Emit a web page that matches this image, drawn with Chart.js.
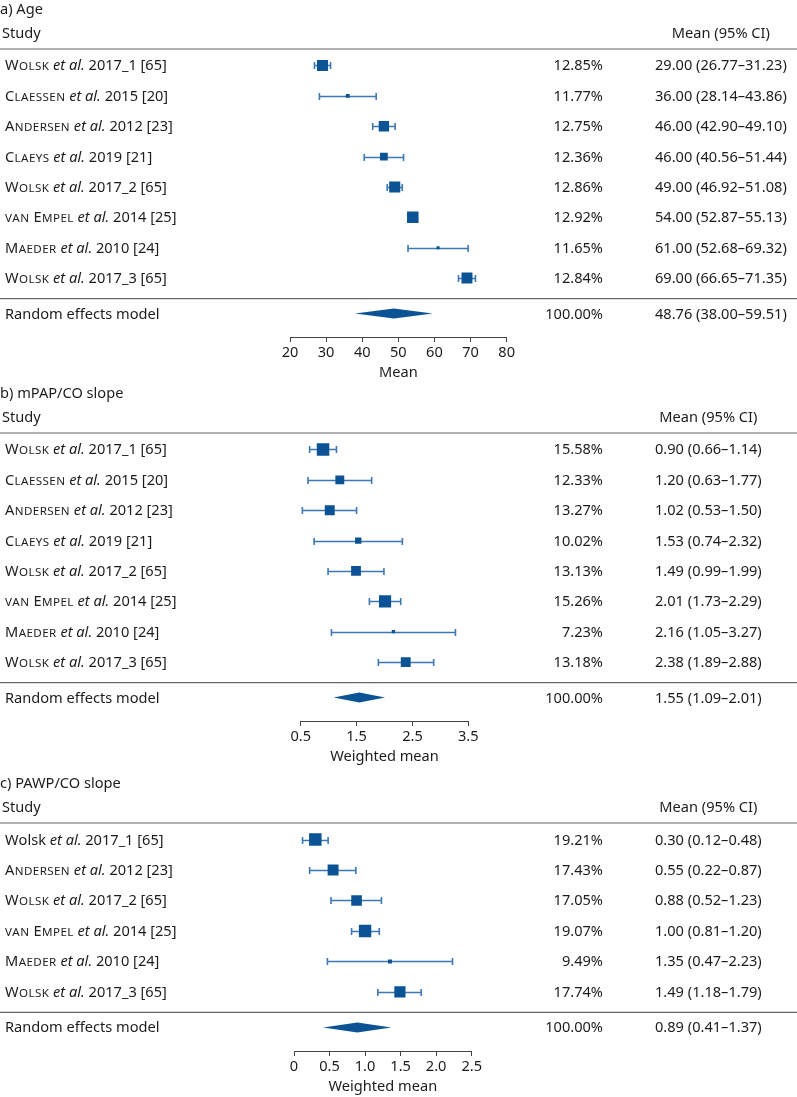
<!DOCTYPE html>
<html>
<head>
<meta charset="utf-8">
<script src="https://cdn.jsdelivr.net/npm/chart.js@4.4.0/dist/chart.umd.min.js"></script>
<style>
    body { margin: 0; background: #fff; width: 797px; height: 1097px; overflow: hidden; position: relative; }
    canvas { position: absolute; left: 0; }
</style>
</head>
<body>
<canvas id="ageChart"></canvas>
<canvas id="mpapChart"></canvas>
<canvas id="pawpChart"></canvas>
<script>
// a) Age
const ageStudies = ['Wolsk et al. 2017_1 [65]', 'Claessen et al. 2015 [20]', 'Andersen et al. 2012 [23]', 'Claeys et al. 2019 [21]',
    'Wolsk et al. 2017_2 [65]', 'van Empel et al. 2014 [25]', 'Maeder et al. 2010 [24]', 'Wolsk et al. 2017_3 [65]'];
const ageWeights = [12.85, 11.77, 12.75, 12.36, 12.86, 12.92, 11.65, 12.84];
const ageMean = [29.00, 36.00, 46.00, 46.00, 49.00, 54.00, 61.00, 69.00];
const ageLower = [26.77, 28.14, 42.90, 40.56, 46.92, 52.87, 52.68, 66.65];
const ageUpper = [31.23, 43.86, 49.10, 51.44, 51.08, 55.13, 69.32, 71.35];
const agePooled = [48.76, 38.00, 59.51];
const ageTicks = [20, 30, 40, 50, 60, 70, 80];
const ageTickLabels = ['20', '30', '40', '50', '60', '70', '80'];

// b) mPAP/CO slope
const mpapStudies = ['Wolsk et al. 2017_1 [65]', 'Claessen et al. 2015 [20]', 'Andersen et al. 2012 [23]', 'Claeys et al. 2019 [21]',
    'Wolsk et al. 2017_2 [65]', 'van Empel et al. 2014 [25]', 'Maeder et al. 2010 [24]', 'Wolsk et al. 2017_3 [65]'];
const mpapWeights = [15.58, 12.33, 13.27, 10.02, 13.13, 15.26, 7.23, 13.18];
const mpapMean = [0.90, 1.20, 1.02, 1.53, 1.49, 2.01, 2.16, 2.38];
const mpapLower = [0.66, 0.63, 0.53, 0.74, 0.99, 1.73, 1.05, 1.89];
const mpapUpper = [1.14, 1.77, 1.50, 2.32, 1.99, 2.29, 3.27, 2.88];
const mpapPooled = [1.55, 1.09, 2.01];
const mpapTicks = [0.5, 1.5, 2.5, 3.5];
const mpapTickLabels = ['0.5', '1.5', '2.5', '3.5'];

// c) PAWP/CO slope
const pawpStudies = ['Wolsk et al. 2017_1 [65]', 'Andersen et al. 2012 [23]', 'Wolsk et al. 2017_2 [65]',
    'van Empel et al. 2014 [25]', 'Maeder et al. 2010 [24]', 'Wolsk et al. 2017_3 [65]'];
const pawpWeights = [19.21, 17.43, 17.05, 19.07, 9.49, 17.74];
const pawpMean = [0.30, 0.55, 0.88, 1.00, 1.35, 1.49];
const pawpLower = [0.12, 0.22, 0.52, 0.81, 0.47, 1.18];
const pawpUpper = [0.48, 0.87, 1.23, 1.20, 2.23, 1.79];
const pawpPooled = [0.89, 0.41, 1.37];
const pawpTicks = [0, 0.5, 1.0, 1.5, 2.0, 2.5];
const pawpTickLabels = ['0', '0.5', '1.0', '1.5', '2.0', '2.5'];
const pawpPlainNames = [0];   // first row printed without small caps

const FONT = "'Noto Sans', sans-serif";
const FS = 14.6;
const TEXT = '#1c1c1c';
const BOX = '#0b5394';
const WHISKER = '#3b78b4';
const RULE = '#666';
const ROW = 30.4;

Chart.defaults.font.family = FONT;
Chart.defaults.font.size = FS;
Chart.defaults.color = TEXT;

function fmt(m, lo, hi) {
    return m.toFixed(2) + ' (' + lo.toFixed(2) + '\u2013' + hi.toFixed(2) + ')';
}

// study label with small caps surname and italic et al.
function drawStudy(ctx, s, x, y, caps) {
    const k = s.indexOf(' et al.');
    const surname = s.slice(0, k);
    const rest = s.slice(k + 7);
    ctx.textAlign = 'left';
    for (const ch of surname) {
        if (caps && ch >= 'a' && ch <= 'z') {
            ctx.font = '11.6px ' + FONT;
            ctx.fillText(ch.toUpperCase(), x, y);
            x += ctx.measureText(ch.toUpperCase()).width + 0.4;
        } else {
            ctx.font = FS + 'px ' + FONT;
            ctx.fillText(ch, x, y);
            x += ctx.measureText(ch).width + (caps ? 0.4 : 0);
        }
    }
    ctx.font = 'italic ' + FS + 'px ' + FONT;
    ctx.fillText(' et al.', x, y);
    x += ctx.measureText(' et al.').width;
    ctx.font = FS + 'px ' + FONT;
    ctx.fillText(rest, x, y);
}

function makePanel(id, top, p) {
    const n = p.studies.length;
    const yMin = -16.5 / ROW;
    const yMax = n - 1 + 59 / ROW;
    const sepY = n - 1 + 20.5 / ROW;
    const reY = n - 1 + 35.5 / ROW;
    const canvas = document.getElementById(id);
    canvas.width = 797;
    canvas.height = Math.round(49 + (yMax - yMin) * ROW + 46);
    canvas.style.top = top + 'px';

    const wMin = Math.min(...p.weights), wMax = Math.max(...p.weights);
    const radii = p.weights.map(w => (p.box[0] + (w - wMin) / (wMax - wMin) * (p.box[1] - p.box[0])) / Math.SQRT2);

    const forest = {
        id: 'forest',
        beforeDatasetsDraw(chart) {
            const ctx = chart.ctx, xs = chart.scales.x, ys = chart.scales.y;
            ctx.save();
            ctx.strokeStyle = WHISKER;
            ctx.lineWidth = 1.6;
            p.lower.forEach((lo, i) => {
                const y = Math.round(ys.getPixelForValue(i)) + 0.5;
                const x1 = xs.getPixelForValue(lo), x2 = xs.getPixelForValue(p.upper[i]);
                ctx.beginPath();
                ctx.moveTo(x1, y); ctx.lineTo(x2, y);
                ctx.moveTo(x1, y - 3.5); ctx.lineTo(x1, y + 3.5);
                ctx.moveTo(x2, y - 3.5); ctx.lineTo(x2, y + 3.5);
                ctx.stroke();
            });
            ctx.restore();
        },
        afterDatasetsDraw(chart) {
            const ctx = chart.ctx, xs = chart.scales.x, ys = chart.scales.y;
            const y = ys.getPixelForValue(reY);
            ctx.save();
            ctx.fillStyle = BOX;
            ctx.beginPath();
            ctx.moveTo(xs.getPixelForValue(p.pooled[1]), y);
            ctx.lineTo(xs.getPixelForValue(p.pooled[0]), y - 5);
            ctx.lineTo(xs.getPixelForValue(p.pooled[2]), y);
            ctx.lineTo(xs.getPixelForValue(p.pooled[0]), y + 5);
            ctx.closePath();
            ctx.fill();
            ctx.restore();
        },
        afterDraw(chart) {
            const ctx = chart.ctx, ys = chart.scales.y;
            const head = ys.getPixelForValue(yMin);
            ctx.save();
            ctx.fillStyle = TEXT;
            ctx.textBaseline = 'alphabetic';
            ctx.font = FS + 'px ' + FONT;
            ctx.textAlign = 'left';
            ctx.fillText(p.label, 0, head - 35);
            ctx.fillText('Study', 2, head - 11);

            const ci = p.mean.map((m, i) => fmt(m, p.lower[i], p.upper[i]));
            const colW = Math.max(...ci.map(t => ctx.measureText(t).width));
            ctx.textAlign = 'center';
            ctx.fillText('Mean (95% CI)', 655 + colW / 2, head - 11);

            ctx.strokeStyle = RULE;
            ctx.lineWidth = 1.2;
            [head, ys.getPixelForValue(sepY)].forEach(ly => {
                ctx.beginPath();
                ctx.moveTo(0, ly); ctx.lineTo(797, ly);
                ctx.stroke();
            });

            p.studies.forEach((s, i) => {
                const y = ys.getPixelForValue(i) + 5;
                drawStudy(ctx, s, 5, y, !(p.plain || []).includes(i));
                ctx.font = FS + 'px ' + FONT;
                ctx.textAlign = 'right';
                ctx.fillText(p.weights[i].toFixed(2) + '%', 603, y);
                ctx.textAlign = 'left';
                ctx.fillText(ci[i], 655, y);
            });
            const ry = ys.getPixelForValue(reY) + 5;
            ctx.textAlign = 'left';
            ctx.fillText('Random effects model', 5, ry);
            ctx.textAlign = 'right';
            ctx.fillText('100.00%', 603, ry);
            ctx.textAlign = 'left';
            ctx.fillText(fmt(p.pooled[0], p.pooled[1], p.pooled[2]), 655, ry);
            ctx.restore();
        }
    };

    return new Chart(canvas, {
        type: 'scatter',
        data: {
            datasets: [{
                data: p.mean.map((m, i) => ({ x: m, y: i })),
                pointStyle: 'rect',
                pointRadius: radii,
                pointHoverRadius: radii,
                backgroundColor: BOX,
                borderWidth: 0
            }]
        },
        options: {
            responsive: false,
            animation: false,
            devicePixelRatio: 1,
            events: [],
            layout: { padding: { left: p.xRange[0], right: 797 - p.xRange[1], top: 49, bottom: 0 } },
            plugins: { legend: { display: false }, tooltip: { enabled: false } },
            scales: {
                x: {
                    type: 'linear',
                    min: p.ticks[0],
                    max: p.ticks[p.ticks.length - 1],
                    afterBuildTicks: s => { s.ticks = p.ticks.map(v => ({ value: v })); },
                    afterFit: s => { s.height = 46; },
                    ticks: {
                        autoSkip: false,
                        maxRotation: 0,
                        padding: 2,
                        color: TEXT,
                        font: { size: FS },
                        callback: (v, i) => p.tickLabels[i]
                    },
                    grid: { drawOnChartArea: false, drawTicks: true, tickLength: 5, color: '#444' },
                    border: { display: true, color: '#444', width: 1 },
                    title: { display: true, text: p.axisTitle, color: TEXT, font: { size: FS }, padding: { top: 0, bottom: 1 } }
                },
                y: { type: 'linear', reverse: true, min: yMin, max: yMax, display: false }
            }
        },
        plugins: [forest]
    });
}

makePanel('ageChart', 0, {
    label: 'a) Age', studies: ageStudies, weights: ageWeights, mean: ageMean, lower: ageLower, upper: ageUpper,
    pooled: agePooled, ticks: ageTicks, tickLabels: ageTickLabels, axisTitle: 'Mean',
    xRange: [290, 506.7], box: [3, 11.5]
});
makePanel('mpapChart', 384, {
    label: 'b) mPAP/CO slope', studies: mpapStudies, weights: mpapWeights, mean: mpapMean, lower: mpapLower, upper: mpapUpper,
    pooled: mpapPooled, ticks: mpapTicks, tickLabels: mpapTickLabels, axisTitle: 'Weighted mean',
    xRange: [300.7, 468.3], box: [3.3, 12.5]
});
makePanel('pawpChart', 774, {
    label: 'c) PAWP/CO slope', studies: pawpStudies, weights: pawpWeights, mean: pawpMean, lower: pawpLower, upper: pawpUpper,
    pooled: pawpPooled, ticks: pawpTicks, tickLabels: pawpTickLabels, axisTitle: 'Weighted mean',
    xRange: [294, 471.7], box: [4, 12.5], plain: pawpPlainNames
});
</script>
</body>
</html>
